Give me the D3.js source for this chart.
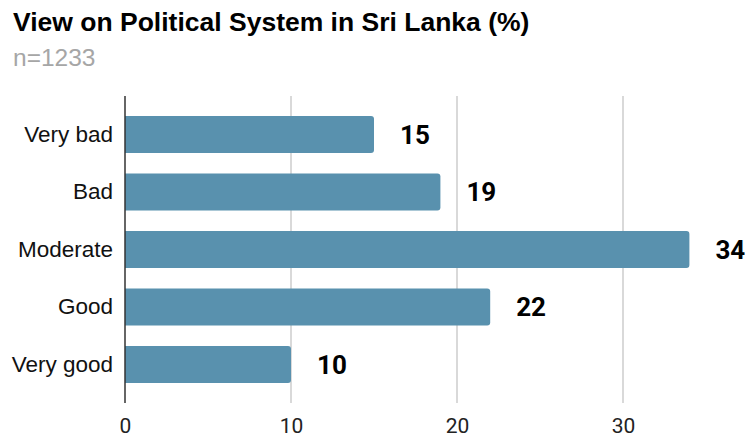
<!DOCTYPE html>
<html>
<head>
<meta charset="utf-8">
<script src="https://cdn.jsdelivr.net/npm/d3@7"></script>
<style>
  html, body { margin: 0; padding: 0; background: #fff; }
  svg { display: block; }
</style>
</head>
<body>
<svg id="chart" width="745" height="437"></svg>
<script>
// Survey responses: view on the political system (%)
const categories = ["Very bad", "Bad", "Moderate", "Good", "Very good"];
const values = [15, 19, 34, 22, 10];
const tickValues = [0, 10, 20, 30];
const titleText = "View on Political System in Sri Lanka (%)";
const subtitleText = "n=1233";

const svg = d3.select("#chart");
const plotLeft = 125, plotTop = 96, plotBottom = 403;

const x = d3.scaleLinear().domain([0, 36]).range([plotLeft, plotLeft + 36 * 16.6]);
const y = d3.scaleBand().domain(categories).range([plotTop, plotBottom])
  .paddingInner(0.36).paddingOuter(0.35);

// title + subtitle
svg.append("text")
  .attr("x", 13).attr("y", 31)
  .attr("font-family", "Liberation Sans, Arial, sans-serif")
  .attr("font-weight", "bold").attr("font-size", 26.5)
  .attr("fill", "#000")
  .text(titleText);
svg.append("text")
  .attr("x", 13).attr("y", 66)
  .attr("font-family", "Liberation Sans, Arial, sans-serif")
  .attr("font-size", 24.5)
  .attr("fill", "#a6a6a6")
  .text(subtitleText);

// vertical gridlines
svg.append("g")
  .selectAll("line")
  .data(tickValues.filter(d => d > 0))
  .join("line")
  .attr("x1", d => x(d)).attr("x2", d => x(d))
  .attr("y1", plotTop).attr("y2", plotBottom)
  .attr("stroke", "#cccccc").attr("stroke-width", 1.5);

// bottom tick labels
const xAxis = d3.axisBottom(x).tickValues(tickValues).tickSize(0).tickPadding(0);
const gx = svg.append("g").attr("transform", `translate(0,${plotBottom + 15})`).call(xAxis);
gx.select(".domain").remove();
gx.selectAll("text")
  .attr("font-family", "Roboto, sans-serif")
  .attr("font-size", 21)
  .attr("fill", "#222")
  .attr("dy", "0.71em");

// bars with rounded right end
const r = 3;
function barPath(d, i) {
  const x0 = x(0), x1 = x(d), y0 = y(categories[i]), h = y.bandwidth();
  return `M${x0},${y0}H${x1 - r}Q${x1},${y0} ${x1},${y0 + r}V${y0 + h - r}Q${x1},${y0 + h} ${x1 - r},${y0 + h}H${x0}Z`;
}
svg.append("g")
  .selectAll("path")
  .data(values)
  .join("path")
  .attr("d", barPath)
  .attr("fill", "#5991ae");

// left axis with category labels
const yAxis = d3.axisLeft(y).tickSize(0).tickPadding(12);
const gy = svg.append("g").attr("transform", `translate(${plotLeft},0)`).call(yAxis);
gy.select(".domain").attr("stroke", "#333").attr("stroke-width", 1.5)
  .attr("d", `M0,${plotTop}V${plotBottom}`);
gy.selectAll("text")
  .attr("font-family", "Liberation Sans, Arial, sans-serif")
  .attr("font-size", 22.5)
  .attr("fill", "#111");

// value labels
svg.append("g")
  .selectAll("text")
  .data(values)
  .join("text")
  .attr("x", d => x(d) + 26)
  .attr("y", (d, i) => y(categories[i]) + y.bandwidth() / 2)
  .attr("dy", "0.36em")
  .attr("font-family", "Roboto, sans-serif")
  .attr("font-weight", "bold")
  .attr("font-size", 26)
  .attr("fill", "#000")
  .text(d => d);
</script>
</body>
</html>
